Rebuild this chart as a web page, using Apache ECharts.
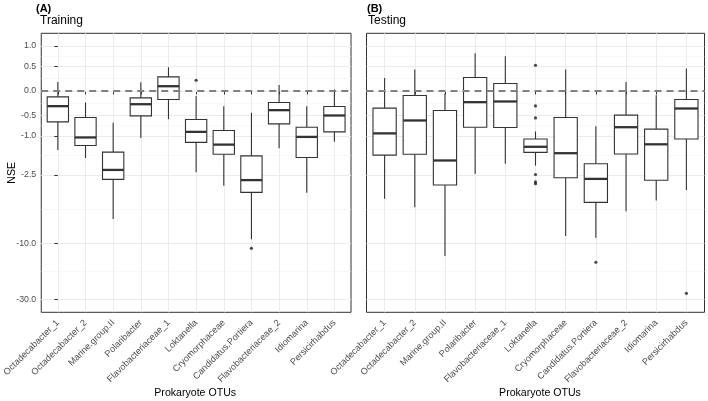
<!DOCTYPE html>
<html><head><meta charset="utf-8">
<script src="https://cdn.jsdelivr.net/npm/echarts@6/dist/echarts.min.js"></script>
<style>html,body{margin:0;padding:0;background:#fff}#c{width:708px;height:401px}</style>
</head><body><div id="c"></div>
<script>
// ---------------- data ----------------
const categories = ['Octadecabacter_1','Octadecabacter_2','Marine.group.II','Polaribacter','Flavobacteriaceae_1','Loktanella','Cryomorphaceae','Candidatus.Portiera','Flavobacteriaceae_2','Idiomarina','Persicirhabdus'];

// (A) Training : NSE box statistics per OTU
const trainLow  = [-1.44, -1.73, -6.13, -1.06, -0.583, -2.36, -3.14, -9.17, -1.38, -3.62, -1.17];
const trainQ1   = [-0.645, -1.29, -2.75, -0.509, -0.169, -1.19, -1.59, -3.59, -0.693, -1.71, -0.893];
const trainMed  = [-0.304, -1.045, -2.25, -0.264, 0.092, -0.893, -1.26, -2.79, -0.387, -1.03, -0.501];
const trainQ3   = [-0.118, -0.545, -1.51, -0.138, 0.278, -0.59, -0.856, -1.65, -0.229, -0.774, -0.31];
const trainHigh = [0.177, -0.229, -0.669, 0.171, 0.481, -0.098, -0.304, -0.444, 0.118, -0.304, 0.027];
const trainOutCat = [5, 7];
const trainOutVal = [0.211, -10.94];

// (B) Testing
const testLow  = [-4.09, -4.86, -12.72, -2.46, -1.97, -2.05, -8.59, -8.88, -5.26, -4.23, -3.43];
const testQ1   = [-1.62, -1.59, -3.09, -0.774, -0.781, -1.52, -2.66, -4.40, -1.58, -2.80, -1.09];
const testMed  = [-0.933, -0.613, -1.83, -0.223, -0.209, -1.33, -1.55, -2.72, -0.774, -1.25, -0.352];
const testQ3   = [-0.345, -0.090, -0.393, 0.265, 0.145, -1.09, -0.545, -1.97, -0.494, -0.822, -0.169];
const testHigh = [0.2575, 0.431, -0.051, 0.807, 0.734, -0.882, 0.431, -0.748, 0.177, -0.084, 0.453];
const testOutCat = [5, 5, 5, 5, 5, 5, 7, 10];
const testOutVal = [0.525, -0.298, -0.556, -2.48, -2.90, -3.01, -14.4, -26.5];

const yTicks = [1.0, 0.5, 0.0, -0.5, -1.0, -2.5, -10.0, -30.0];
const yTickLabels = ['1.0', '0.5', '0.0', '-0.5', '-1.0', '-2.5', '-10.0', '-30.0'];
const yLimits = [-30, 1];
const refLine = 0;

// ---------------- scales ----------------
const T = Math.asinh;                         // pseudo-log (asinh) y transform
const tLo = T(yLimits[0]), tHi = T(yLimits[1]);
const tExp = (tHi - tLo) * 0.05;
const yMin = tLo - tExp, yMax = tHi + tExp;
const xMin = -0.6, xMax = categories.length - 1 + 0.6;

const majorT = yTicks.map(T);
const minorT = [];
for (let i = 0; i < majorT.length - 1; i++) minorT.push((majorT[i] + majorT[i + 1]) / 2);
const catIdx = categories.map((c, i) => i);

function boxData(lo, q1, me, q3, hi) {
  return categories.map((c, i) => [i, T(lo[i]), T(q1[i]), T(me[i]), T(q3[i]), T(hi[i])]);
}
function outData(cat, val) { return cat.map((c, i) => [c, T(val[i])]); }

const FONT = '"Liberation Sans", Arial, "DejaVu Sans", sans-serif';
const GRID_C = '#EBEBEB', MINOR_C = '#F4F4F4', INK = '#333333';

const panels = [
  { left: 39.3, width: 311.7, showY: true,  box: boxData(trainLow, trainQ1, trainMed, trainQ3, trainHigh), out: outData(trainOutCat, trainOutVal) },
  { left: 366.5, width: 338,  showY: false, box: boxData(testLow, testQ1, testMed, testQ3, testHigh),     out: outData(testOutCat, testOutVal) }
];

const grid = [], xAxis = [], yAxis = [], series = [];
panels.forEach((p, k) => {
  grid.push({ left: p.left, top: 33.3, width: p.width, height: 279, show: true, borderColor: INK, borderWidth: 1, backgroundColor: 'transparent', containLabel: false });
  xAxis.push({
    type: 'value', gridIndex: k, min: xMin, max: xMax,
    axisLine: { show: false },
    axisTick: { show: true, customValues: catIdx, length: 3.5, lineStyle: { color: INK, width: 1 } },
    axisLabel: { show: true, customValues: catIdx, rotate: 45, margin: 9, fontSize: 9.1, color: '#4D4D4D', fontFamily: FONT,
                 formatter: v => categories[Math.round(v)] },
    splitLine: { show: true, lineStyle: { color: GRID_C, width: 1 } }
  });
  // major y axis
  yAxis.push({
    type: 'value', gridIndex: k, min: yMin, max: yMax, position: 'left',
    axisLine: { show: false },
    axisTick: { show: p.showY, customValues: majorT, length: 3.5, lineStyle: { color: INK, width: 1 } },
    axisLabel: { show: p.showY, customValues: majorT, margin: 5, fontSize: 8.8, color: '#4D4D4D', fontFamily: FONT,
                 formatter: v => { let b = 0; majorT.forEach((m, i) => { if (Math.abs(m - v) < Math.abs(majorT[b] - v)) b = i; }); return yTickLabels[b]; } },
    splitLine: { show: true, lineStyle: { color: GRID_C, width: 1 } },
    z: 1
  });
  // minor y gridlines
  yAxis.push({
    type: 'value', gridIndex: k, min: yMin, max: yMax,
    axisLine: { show: false },
    axisTick: { show: false, customValues: minorT },
    axisLabel: { show: false, customValues: minorT },
    splitLine: { show: true, lineStyle: { color: MINOR_C, width: 0.6 } },
    z: 0
  });
  series.push({
    type: 'custom', xAxisIndex: k, yAxisIndex: 2 * k, z: 3,
    data: p.box,
    encode: { x: 0, y: [1, 2, 3, 4, 5] },
    renderItem: (params, api) => {
      const x = api.value(0);
      const lo = api.coord([x, api.value(1)]), q1 = api.coord([x, api.value(2)]);
      const me = api.coord([x, api.value(3)]), q3 = api.coord([x, api.value(4)]);
      const hi = api.coord([x, api.value(5)]);
      const w = api.size([1, 0])[0] * 0.77;
      const cx = me[0];
      return { type: 'group', children: [
        { type: 'line', shape: { x1: cx, y1: q1[1], x2: cx, y2: lo[1] }, style: { stroke: INK, lineWidth: 1.1 } },
        { type: 'line', shape: { x1: cx, y1: q3[1], x2: cx, y2: hi[1] }, style: { stroke: INK, lineWidth: 1.1 } },
        { type: 'rect', shape: { x: cx - w / 2, y: q3[1], width: w, height: q1[1] - q3[1] }, style: { fill: '#fff', stroke: INK, lineWidth: 1.1 } },
        { type: 'line', shape: { x1: cx - w / 2, y1: me[1], x2: cx + w / 2, y2: me[1] }, style: { stroke: INK, lineWidth: 2.3 } }
      ]};
    }
  });
  series.push({
    type: 'scatter', xAxisIndex: k, yAxisIndex: 2 * k, z: 4,
    data: p.out, symbol: 'circle', symbolSize: 3.2,
    itemStyle: { color: '#1a1a1a' }, silent: true,
    markLine: {
      silent: true, symbol: 'none', z: 6, label: { show: false },
      lineStyle: { color: '#808080', type: [7, 5], width: 2 },
      data: [{ yAxis: T(refLine) }]
    }
  });
});

const txt = (x, y, s, o) => Object.assign({ type: 'text', x: x, y: y, style: Object.assign({ text: s, font: '11px ' + FONT, fill: '#000', align: 'left', verticalAlign: 'middle' }, o || {}) });
const graphic = [
  txt(36, 8.5, '(A)', { font: 'bold 11px ' + FONT }),
  txt(40, 20.7, 'Training', { font: '12px ' + FONT }),
  txt(367, 8.5, '(B)', { font: 'bold 11px ' + FONT }),
  txt(368, 20.7, 'Testing', { font: '12px ' + FONT }),
  txt(195.2, 393, 'Prokaryote OTUs', { font: '10.6px ' + FONT, align: 'center' }),
  txt(540, 393, 'Prokaryote OTUs', { font: '10.6px ' + FONT, align: 'center' }),
  { type: 'text', x: 12, y: 172.8, rotation: Math.PI / 2,
    style: { text: 'NSE', font: '10.6px ' + FONT, fill: '#000', align: 'center', verticalAlign: 'middle' } }
];

const chart = echarts.init(document.getElementById('c'), null, { renderer: 'canvas' });
chart.setOption({ animation: false, backgroundColor: '#fff', grid, xAxis, yAxis, series, graphic });
</script></body></html>
